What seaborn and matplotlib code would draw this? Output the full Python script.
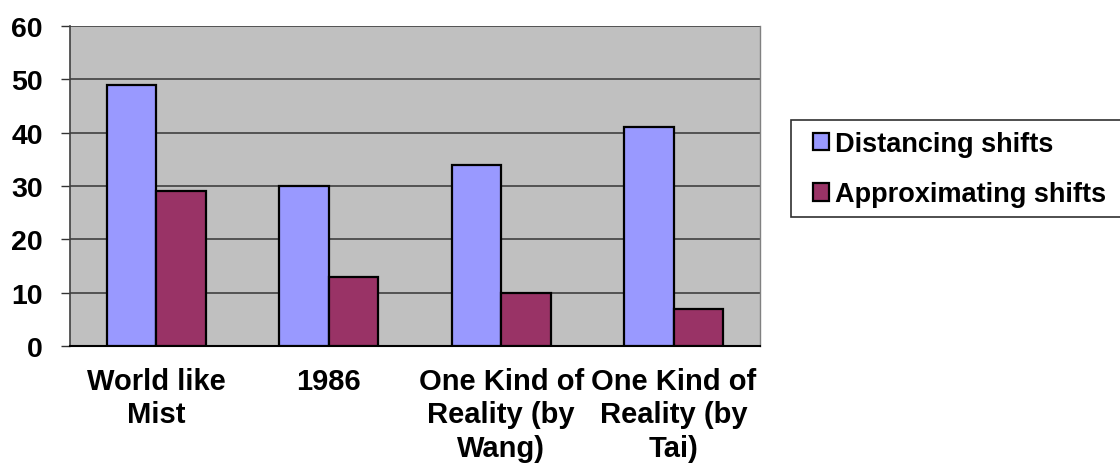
import matplotlib
matplotlib.use("Agg")
import matplotlib.pyplot as plt
from matplotlib.patches import Rectangle
import seaborn as sns
import pandas as pd
import numpy as np

categories = ["World like\nMist", "1986", "One Kind of\nReality (by\nWang)", "One Kind of\nReality (by\nTai)"]
series_names = ["Distancing shifts", "Approximating shifts"]
distancing = [49, 30, 34, 41]
approximating = [29, 13, 10, 7]
y_ticks = [0, 10, 20, 30, 40, 50, 60]
colors = ["#9999FF", "#993366"]

df = pd.DataFrame({
    "category": categories * 2,
    "series": [series_names[0]] * 4 + [series_names[1]] * 4,
    "value": distancing + approximating,
})

sns.set_style("white")
plt.rcParams["font.family"] = ["Liberation Sans", "DejaVu Sans"]
plt.rcParams["font.weight"] = "bold"
plt.rcParams["text.color"] = "black"
plt.rcParams["xtick.color"] = "black"
plt.rcParams["ytick.color"] = "black"

W, H = 1120, 464
fig = plt.figure(figsize=(W/100, H/100), dpi=100)
ax = fig.add_axes([70/W, 1-347/H, 690/W, 320/H])
ax.set_facecolor("#C0C0C0")

sns.barplot(data=df, x="category", y="value", hue="series", order=categories,
            hue_order=series_names, palette=colors, width=0.572, gap=0,
            edgecolor="black", linewidth=1.6, ax=ax, zorder=3, saturation=1)

ax.set_xlim(-0.5, 3.5)
ax.set_ylim(0, 60)
ax.set_yticks(y_ticks)
ax.set_yticklabels([str(v) for v in y_ticks], fontsize=20.5, fontweight="bold")
ax.set_xticks(range(4))
ax.set_xticklabels(categories, fontsize=21, fontweight="bold", linespacing=1.25)
ax.set_xticks(np.arange(-0.5, 4.0, 1.0), minor=True)
ax.tick_params(axis="x", which="major", length=0, pad=15)
ax.tick_params(axis="x", which="minor", length=6.5, width=1, color="#333333", direction="out")
ax.tick_params(axis="y", which="major", length=6.5, width=1, color="#333333", direction="out", pad=13, left=True)
ax.set_xlabel("")
ax.set_ylabel("")
ax.yaxis.grid(True, color="#404040", linewidth=1.2, zorder=1)
ax.set_axisbelow(True)
ax.spines["top"].set_visible(False)
ax.spines["right"].set_color("#808080")
ax.spines["right"].set_linewidth(1)
ax.spines["left"].set_color("#404040")
ax.spines["left"].set_linewidth(1.2)
ax.spines["bottom"].set_color("black")
ax.spines["bottom"].set_linewidth(1.5)

handles, labels = ax.get_legend_handles_labels()
if ax.legend_:
    ax.legend_.remove()
fig.patches.append(Rectangle((791/W, 1-218/H), 340/W, 97/H, transform=fig.transFigure,
                             facecolor="white", edgecolor="#303030", linewidth=1.2, zorder=0))
leg = fig.legend(handles, labels, loc="upper left", bbox_to_anchor=(805/W, 1-124/H),
                 frameon=False, prop={"size": 19.5, "weight": "bold"},
                 handlelength=0.6, handleheight=0.6,
                 handletextpad=0.22, borderpad=0.3, labelspacing=0.9, borderaxespad=0)

fig.savefig("out.png", dpi=100, facecolor="white")
